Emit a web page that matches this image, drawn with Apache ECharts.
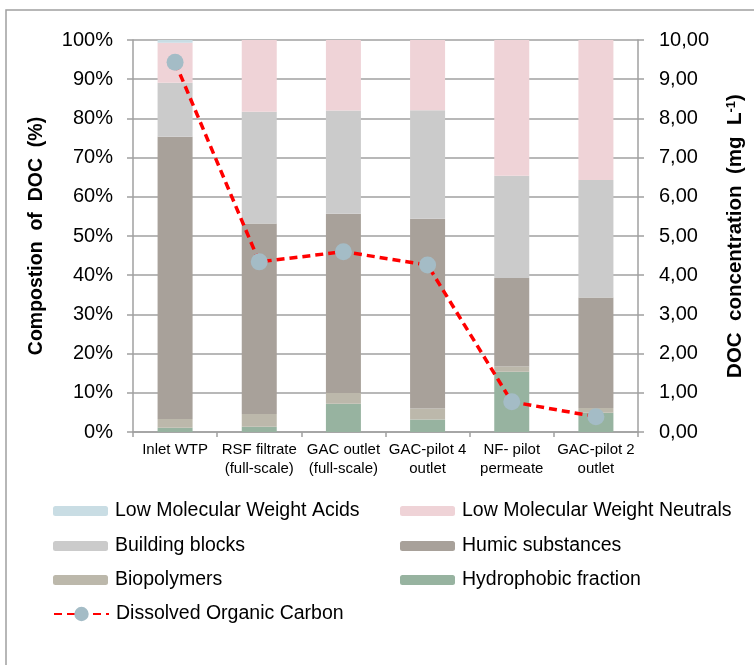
<!DOCTYPE html>
<html>
<head>
<meta charset="utf-8">
<script src="https://cdn.jsdelivr.net/npm/echarts@6/dist/echarts.min.js"></script>
<style>
html,body{margin:0;padding:0;background:#fff;}
#chart{width:754px;height:665px;}
</style>
</head>
<body>
<div id="chart"></div>
<script>
var categories = ['Inlet WTP', 'RSF filtrate\n(full-scale)', 'GAC outlet\n(full-scale)', 'GAC-pilot 4\noutlet', 'NF- pilot\npermeate', 'GAC-pilot 2\noutlet'];
var hydrophobic = [1.1, 1.35, 7.2, 3.2, 15.4, 4.9];
var biopolymers = [2.2, 3.25, 2.75, 2.8, 1.3, 1.2];
var humic = [72.0, 48.6, 45.75, 48.4, 22.6, 28.2];
var buildingBlocks = [13.8, 28.5, 26.3, 27.7, 26.1, 30.0];
var lmwNeutrals = [10.2, 18.3, 18.0, 17.9, 34.6, 35.7];
var lmwAcids = [0.7, 0, 0, 0, 0, 0];
var doc = [9.43, 4.34, 4.60, 4.26, 0.77, 0.39];
var leftTicks = ['0%', '10%', '20%', '30%', '40%', '50%', '60%', '70%', '80%', '90%', '100%'];

var FONT = '"Liberation Sans", Arial, sans-serif';
var chart = echarts.init(document.getElementById('chart'));

function bar(name, data, color) {
  return {
    name: name, type: 'bar', stack: 'doc', data: data, barWidth: 35,
    itemStyle: { color: color }, emphasis: { disabled: true }, yAxisIndex: 0
  };
}

function legendItem(name, left, cy, iconH) {
  var h = iconH || 10;
  return {
    data: [name], left: left, top: cy - Math.max(h, 20) / 2, itemWidth: 55, itemHeight: h, itemGap: 0,
    textStyle: { fontFamily: FONT, fontSize: 19.5, color: '#000', lineHeight: 20, padding: [0, 0, 0, 2] },
    selectedMode: false, padding: 0
  };
}

var option = {
  animation: false,
  backgroundColor: '#fff',
  graphic: [{
    type: 'rect', shape: { x: 6, y: 10, width: 800, height: 700 },
    style: { fill: 'none', stroke: '#a0a0a0', lineWidth: 1.5 }, silent: true
  }],
  grid: { left: 133, right: 115, top: 40, bottom: 233 },
  legend: [
    legendItem('Low Molecular Weight Acids', 53, 511),
    legendItem('Low Molecular Weight Neutrals', 400, 511),
    legendItem('Building blocks', 53, 546),
    legendItem('Humic substances', 400, 546),
    legendItem('Biopolymers', 53, 580),
    legendItem('Hydrophobic fraction', 400, 580),
    legendItem('Dissolved Organic Carbon', 53, 614, 18)
  ],
  xAxis: {
    type: 'category', data: categories,
    axisLine: { lineStyle: { color: '#a0a0a0', width: 1.5 } },
    axisTick: { show: true, length: 5, lineStyle: { color: '#a0a0a0', width: 1.5 } },
    axisLabel: { interval: 0, fontFamily: FONT, fontSize: 15, color: '#000', lineHeight: 19, margin: 8 }
  },
  yAxis: [{
    type: 'value', min: 0, max: 100, interval: 10,
    name: 'Compostion  of  DOC  (%)', nameLocation: 'middle', nameGap: 86,
    nameTextStyle: { fontFamily: FONT, fontSize: 19.5, fontWeight: 'bold', color: '#000' },
    axisLine: { show: true, lineStyle: { color: '#a0a0a0', width: 1.5 } },
    axisTick: { show: true, length: 6, lineStyle: { color: '#a0a0a0', width: 1.5 } },
    axisLabel: { fontFamily: FONT, fontSize: 20, color: '#000', margin: 20, showMaxLabel: true,
      formatter: function (v) { return leftTicks[Math.round(v / 10)]; } },
    splitLine: { show: true, lineStyle: { color: '#a0a0a0', width: 1.5 } }
  }, {
    type: 'value', min: 0, max: 10, interval: 1, position: 'right',
    name: 'DOC  concentration  (mg  L{sup|-1})', nameLocation: 'middle', nameGap: 87,
    nameRotate: 90,
    nameTextStyle: { fontFamily: FONT, fontSize: 20.5, fontWeight: 'bold', color: '#000',
      rich: { sup: { fontFamily: FONT, fontSize: 13, fontWeight: 'bold', color: '#000', verticalAlign: 'top', padding: [0, 0, 8, 0] } } },
    axisLine: { show: true, lineStyle: { color: '#a0a0a0', width: 1.5 } },
    axisTick: { show: true, length: 6, lineStyle: { color: '#a0a0a0', width: 1.5 } },
    axisLabel: { fontFamily: FONT, fontSize: 20, color: '#000', margin: 21, showMaxLabel: true,
      formatter: function (v) { return v.toFixed(2).replace('.', ','); } },
    splitLine: { show: false }
  }],
  series: [
    bar('Hydrophobic fraction', hydrophobic, '#97b3a0'),
    bar('Biopolymers', biopolymers, '#bcb8ab'),
    bar('Humic substances', humic, '#a8a19a'),
    bar('Building blocks', buildingBlocks, '#cbcbcb'),
    bar('Low Molecular Weight Neutrals', lmwNeutrals, '#efd3d7'),
    bar('Low Molecular Weight Acids', lmwAcids, '#c9dde4'),
    {
      name: 'Dissolved Organic Carbon', type: 'line', yAxisIndex: 1, data: doc,
      symbol: 'circle', symbolSize: 17,
      lineStyle: { color: '#ff0000', width: 3.5, type: [8, 5] },
      itemStyle: { color: '#a4bcc6' },
      emphasis: { disabled: true }, z: 5
    }
  ]
};
chart.setOption(option);
</script>
</body>
</html>
